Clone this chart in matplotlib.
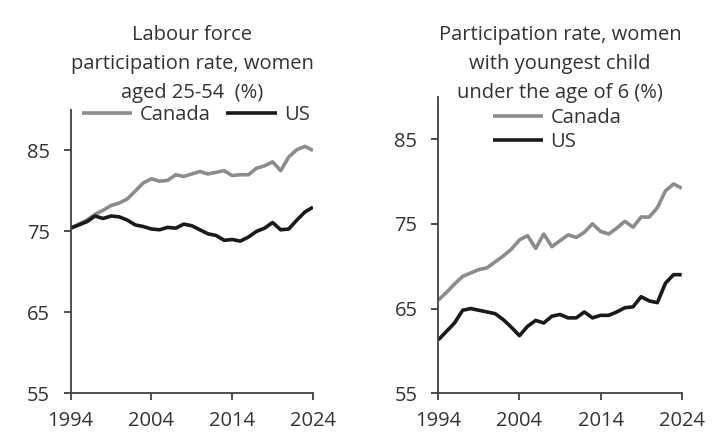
import matplotlib
matplotlib.use("Agg")
import matplotlib.pyplot as plt
import numpy as np

plt.rcParams['font.family'] = ['Open Sans', 'DejaVu Sans']

years = list(range(1994, 2025))

# Left panel: labour force participation rate, women aged 25-54 (%)
canada_25_54 = [75.4, 75.9, 76.4, 77.1, 77.6, 78.2, 78.5, 79.0, 80.0, 81.0,
                81.5, 81.2, 81.3, 82.0, 81.8, 82.1, 82.4, 82.1, 82.3, 82.5,
                81.9, 82.0, 82.0, 82.8, 83.1, 83.6, 82.5, 84.2, 85.1, 85.5, 85.0]
us_25_54 = [75.4, 75.8, 76.2, 76.9, 76.6, 76.9, 76.8, 76.4, 75.8, 75.6,
            75.3, 75.2, 75.5, 75.4, 75.9, 75.7, 75.2, 74.7, 74.5, 73.9,
            74.0, 73.8, 74.3, 75.0, 75.4, 76.1, 75.2, 75.3, 76.4, 77.4, 78.0]

# Right panel: participation rate, women with youngest child under 6 (%)
canada_child = [66.0, 66.9, 67.9, 68.8, 69.2, 69.6, 69.8, 70.5, 71.2, 72.0,
                73.1, 73.6, 72.1, 73.8, 72.3, 73.0, 73.7, 73.4, 74.0, 75.0,
                74.1, 73.8, 74.5, 75.3, 74.6, 75.8, 75.8, 76.9, 78.9, 79.7, 79.2]
us_child = [61.3, 62.3, 63.3, 64.8, 65.0, 64.8, 64.6, 64.4, 63.7, 62.8,
            61.8, 62.9, 63.6, 63.3, 64.1, 64.3, 63.9, 63.9, 64.6, 63.9,
            64.2, 64.2, 64.6, 65.1, 65.2, 66.4, 65.9, 65.7, 68.0, 69.0, 69.0]

series_labels = ["Canada", "US"]
titles = ["Labour force\nparticipation rate, women\naged 25-54  (%)",
          "Participation rate, women\nwith youngest child\nunder the age of 6 (%)"]
xticks = [1994, 2004, 2014, 2024]
yticks = [55, 65, 75, 85]

GRAY = "#8c8c8c"
BLACK = "#1a1a1a"
TXT = "#333333"
SPINE = "#404040"
FS = 14.5

W, H = 725, 432
fig = plt.figure(figsize=(W / 100, H / 100), dpi=100)

def px_axes(l, r, t, b):
    return fig.add_axes([l / W, 1 - b / H, (r - l) / W, (b - t) / H])

ax1 = px_axes(70.7, 313, 110, 393.3)
ax2 = px_axes(438.3, 681.7, 96.7, 393.3)

for ax, ca, us in [(ax1, canada_25_54, us_25_54), (ax2, canada_child, us_child)]:
    ax.plot(years, ca, color=GRAY, lw=2.6, label=series_labels[0], solid_capstyle='butt')
    ax.plot(years, us, color=BLACK, lw=2.6, label=series_labels[1], solid_capstyle='butt')
    ax.set_xlim(1994, 2024)
    ax.set_ylim(55, 90)
    ax.set_xticks(xticks)
    ax.set_yticks(yticks)
    for s in ['top', 'right']:
        ax.spines[s].set_visible(False)
    for s in ['left', 'bottom']:
        ax.spines[s].set_color(SPINE)
        ax.spines[s].set_linewidth(1.3)
    ax.tick_params(axis='both', direction='out', length=5, width=1.3, color=SPINE,
                   labelsize=FS, labelcolor=TXT)
    ax.tick_params(axis='y', pad=10)
    ax.tick_params(axis='x', pad=7.5)
    ax.patch.set_alpha(0)

# Legends
fig.legend(*ax1.get_legend_handles_labels(), loc='upper left',
           bbox_to_anchor=(82 / W, 1 - 105 / H), ncol=2, frameon=False,
           fontsize=FS, labelcolor=TXT, borderpad=0, borderaxespad=0,
           handlelength=2.5, handletextpad=0.35, columnspacing=0.8)
fig.legend(*ax2.get_legend_handles_labels(), loc='upper left',
           bbox_to_anchor=(493 / W, 1 - 108 / H), ncol=1, frameon=False,
           fontsize=FS, labelcolor=TXT, borderpad=0, borderaxespad=0,
           handlelength=2.5, handletextpad=0.35, labelspacing=0.2)

# Titles (va='baseline' on multi-line text anchors the last line)
fig.text(192 / W, 1 - 98 / H, titles[0], ha='center', va='baseline',
         fontsize=FS, color=TXT, linespacing=1.6)
fig.text(560 / W, 1 - 98 / H, titles[1], ha='center', va='baseline',
         fontsize=FS, color=TXT, linespacing=1.6)

fig.savefig("out.png", dpi=100)
